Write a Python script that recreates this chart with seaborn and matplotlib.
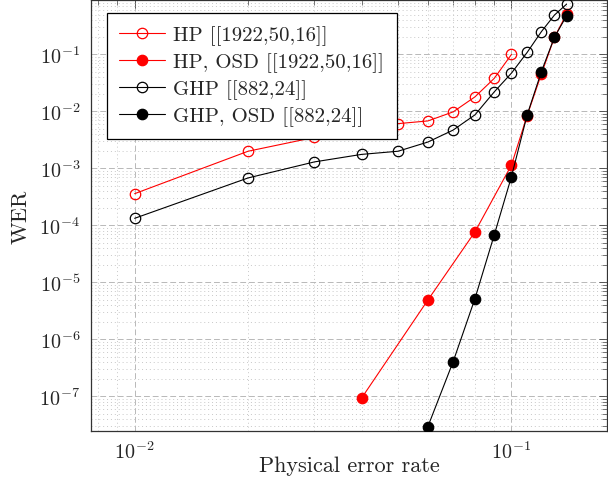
import numpy as np
import matplotlib
matplotlib.use("Agg")
import matplotlib.pyplot as plt
import matplotlib.ticker as mticker
import seaborn as sns

# Physical error rate values
p_hp = [0.01, 0.02, 0.03, 0.04, 0.05, 0.06, 0.07, 0.08, 0.09, 0.10]
wer_hp = [3.6e-4, 2.0e-3, 3.5e-3, 4.8e-3, 6.1e-3, 6.8e-3, 9.8e-3, 1.8e-2, 3.8e-2, 1.0e-1]

p_hp_osd = [0.04, 0.06, 0.08, 0.10, 0.11, 0.12, 0.13, 0.14]
wer_hp_osd = [9.3e-8, 4.9e-6, 7.7e-5, 1.15e-3, 8.4e-3, 4.5e-2, 2.0e-1, 5.1e-1]

p_ghp = [0.01, 0.02, 0.03, 0.04, 0.05, 0.06, 0.07, 0.08, 0.09, 0.10, 0.11, 0.12, 0.13, 0.14]
wer_ghp = [1.33e-4, 6.8e-4, 1.3e-3, 1.76e-3, 2.0e-3, 2.9e-3, 4.7e-3, 8.7e-3,
           2.2e-2, 4.7e-2, 1.08e-1, 2.5e-1, 4.9e-1, 7.6e-1]

p_ghp_osd = [0.06, 0.07, 0.08, 0.09, 0.10, 0.11, 0.12, 0.13, 0.14]
wer_ghp_osd = [2.95e-8, 4.05e-7, 5.2e-6, 6.8e-5, 7.2e-4, 8.6e-3, 4.95e-2, 2.0e-1, 4.75e-1]

sns.set_style("white")
plt.rcParams["font.family"] = ["cmr10", "DejaVu Serif"]
plt.rcParams["mathtext.fontset"] = "cm"
plt.rcParams["axes.formatter.use_mathtext"] = True

fig = plt.figure(figsize=(6.08, 4.81), dpi=100)
ax = fig.add_axes([0.150, 0.1025, 0.848, 0.8954])

series = [
    (p_hp, wer_hp, "red", "none", "HP [[1922,50,16]]"),
    (p_hp_osd, wer_hp_osd, "red", "red", "HP, OSD [[1922,50,16]]"),
    (p_ghp, wer_ghp, "black", "none", "GHP [[882,24]]"),
    (p_ghp_osd, wer_ghp_osd, "black", "black", "GHP, OSD [[882,24]]"),
]
for x, y, c, fc, lab in series:
    sns.lineplot(x=x, y=y, ax=ax, color=c, marker="o", markersize=7.5,
                 markerfacecolor=fc, markeredgecolor=c, markeredgewidth=0.9,
                 linewidth=0.8, label=lab, zorder=3)

ax.set_xscale("log")
ax.set_yscale("log")
ax.set_xlim(0.00767, 0.179)
ax.set_ylim(2.5e-8, 0.9)

for axis in (ax.xaxis, ax.yaxis):
    axis.set_major_locator(mticker.LogLocator(base=10, numticks=30))
    axis.set_minor_locator(mticker.LogLocator(base=10, subs=np.arange(2, 10), numticks=30))
    axis.set_minor_formatter(mticker.NullFormatter())

ax.grid(True, which="major", color="#b8b8b8", linestyle=(0, (6, 3)), linewidth=0.7, zorder=0)
ax.grid(True, which="minor", color="#c8c8c8", linestyle=(0, (1, 3)), linewidth=0.7, zorder=0)
ax.set_axisbelow(True)

ax.tick_params(which="major", direction="in", length=6, width=0.6, color="#444444",
               top=True, right=True, labelsize=14.5)
ax.tick_params(axis="x", which="major", pad=7)
ax.tick_params(axis="y", which="major", pad=8)
ax.tick_params(which="minor", direction="in", length=3.5, width=0.5, color="#444444",
               top=True, right=True)
for s in ax.spines.values():
    s.set_color("#333333")
    s.set_linewidth(0.9)

ax.set_xlabel("Physical error rate", fontsize=16, labelpad=-5)
ax.set_ylabel("WER", fontsize=16, labelpad=6)

leg = ax.legend(loc="upper left", bbox_to_anchor=(0.03, 0.97), borderaxespad=0,
                fontsize=15, frameon=True, fancybox=False, framealpha=1,
                edgecolor="black", handlelength=2.2, handletextpad=0.4,
                labelspacing=0.35, borderpad=0.6)
leg.get_frame().set_linewidth(0.9)

fig.savefig("out.png", dpi=100)
